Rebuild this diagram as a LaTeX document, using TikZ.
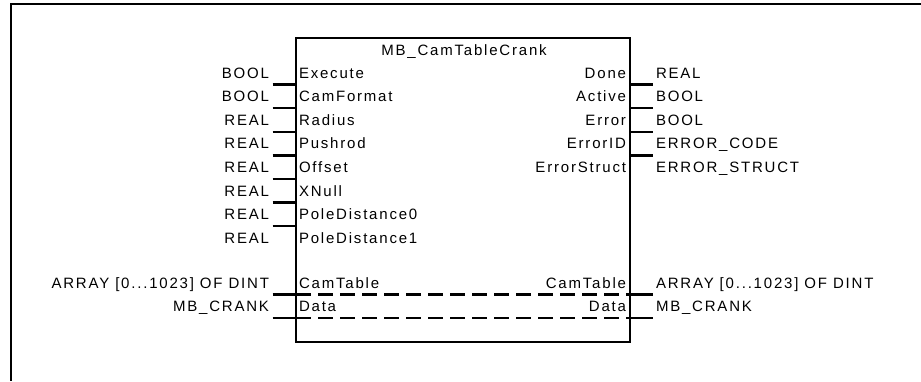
\documentclass[tikz,border=0pt]{standalone}
\usepackage{fontspec}
\setmainfont{Liberation Sans}[LetterSpace=12]
\usetikzlibrary{positioning}
\tikzset{x=1pt, y=-1pt,
  fb/.style={draw, line width=2.4pt, minimum width=334pt, minimum height=304pt, inner sep=0pt, outer sep=0pt},
  lbl/.style={inner sep=0pt, outer sep=0pt, font=\fontsize{15}{17}\selectfont},
  pinL/.style={lbl, anchor=base west},
  pinR/.style={lbl, anchor=base east},
  stub/.style={line width=2.4pt},
  bus/.style={line width=2.4pt, dash pattern=on 15pt off 7pt},
  frame/.style={line width=2.8pt}}

\begin{document}
\begin{tikzpicture}
    \useasboundingbox (0,0) rectangle (921,381);
    \draw[frame] (921,4) -| (11,381);

    % function block
    \node[fb] (fb) at (463,190) {};
    \node[lbl, anchor=base] (title) at (464,55) {MB\_CamTableCrank};

    % inputs
    \foreach \pin/\type [count=\i from 0] in {Execute/BOOL, CamFormat/BOOL, Radius/REAL, Pushrod/REAL, Offset/REAL, XNull/REAL, PoleDistance0/REAL, PoleDistance1/REAL} {
        \node[pinL] (in\i) at (299, 78+23.6*\i) {\pin};
        \node[pinR] (tin\i) at (269, 78+23.6*\i) {\type};
    }
    \foreach \i in {0,...,6} {
        \coordinate (lin\i) at (272.5, 84.5+23.6*\i);
        \draw[stub] (lin\i) -- (lin\i -| fb.west);
    }

    % outputs
    \foreach \pin/\type [count=\i from 0] in {Done/REAL, Active/BOOL, Error/BOOL, ErrorID/ERROR\_CODE, ErrorStruct/ERROR\_STRUCT} {
        \node[pinR] (out\i) at (626, 78+23.6*\i) {\pin};
        \node[pinL] (tout\i) at (656, 78+23.6*\i) {\type};
    }
    \foreach \i in {0,...,3} {
        \coordinate (lout\i) at (653, 84.5+23.6*\i);
        \draw[stub] (lout\i -| fb.east) -- (lout\i);
    }

    % in-out parameters
    \node[pinL] (ctIn) at (299,288) {CamTable};
    \node[pinR] (ctOut) at (626,288) {CamTable};
    \node[pinR] (ctTypeL) at (269,288) {ARRAY [0...1023] OF DINT};
    \node[pinL] (ctTypeR) at (656,288) {ARRAY [0...1023] OF DINT};
    \node[pinL] (dIn) at (299,311.5) {Data};
    \node[pinR] (dOut) at (626,311.5) {Data};
    \node[pinR] (dTypeL) at (269,311.5) {MB\_CRANK};
    \node[pinL] (dTypeR) at (656,311.5) {MB\_CRANK};

    \coordinate (ctL) at (272.5,294.5);
    \coordinate (ctR) at (653,294.5);
    \coordinate (dL) at (272.5,318);
    \coordinate (dR) at (653,318);
    \draw[stub] (ctL) -- (ctL -| fb.west);
    \draw[stub] (ctR -| fb.east) -- (ctR);
    \draw[stub] (dL) -- (dL -| fb.west);
    \draw[stub] (dR -| fb.east) -- (dR);
    \draw[bus] (ctL -| fb.west) -- (ctR -| fb.east);
    \draw[bus] (dL -| fb.west) -- (dR -| fb.east);
\end{tikzpicture}
\end{document}
